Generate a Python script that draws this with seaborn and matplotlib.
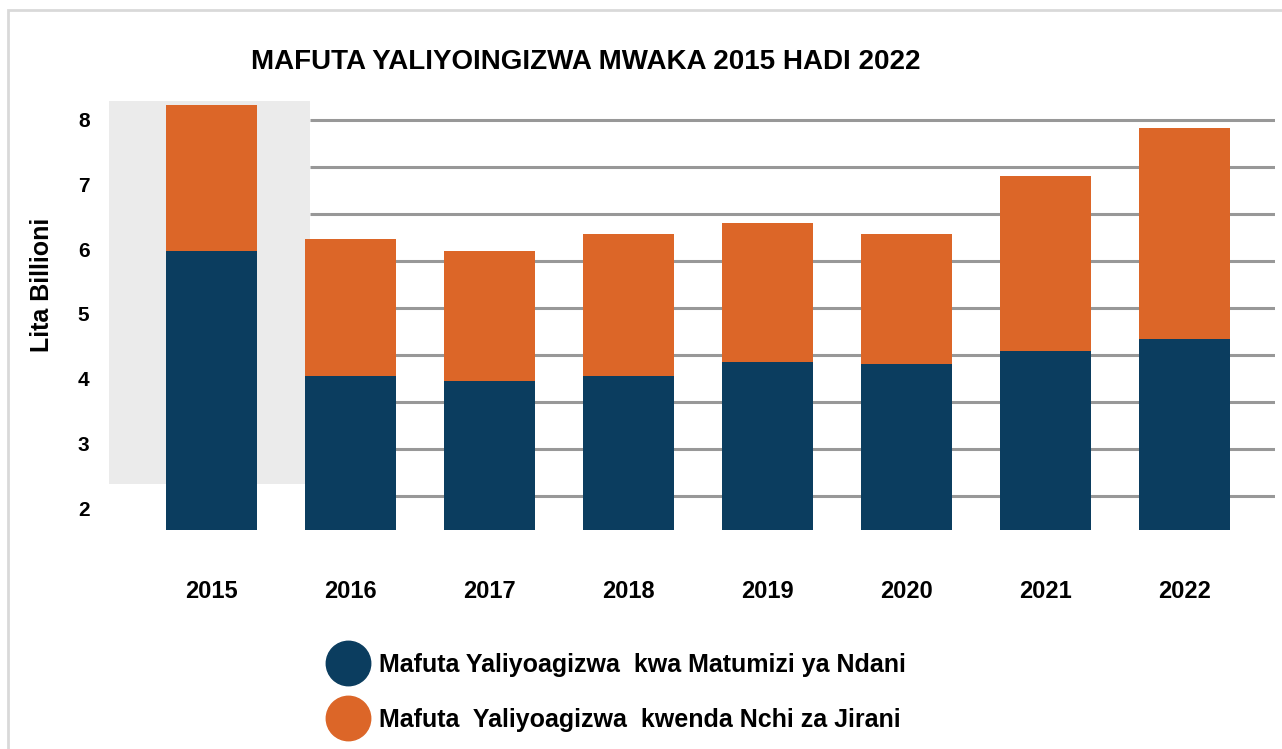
import matplotlib
matplotlib.use('Agg')
import matplotlib.pyplot as plt
from matplotlib.lines import Line2D
from matplotlib.patches import Rectangle
import numpy as np
import pandas as pd
import seaborn as sns

# Data (billion litres)
years = ['2015', '2016', '2017', '2018', '2019', '2020', '2021', '2022']
ndani = [5.97, 4.04, 3.96, 4.04, 4.26, 4.23, 4.43, 4.61]
jirani = [2.26, 2.12, 2.01, 2.20, 2.15, 2.01, 2.70, 3.27]

series_names = ['Mafuta Yaliyoagizwa  kwa Matumizi ya Ndani',
                'Mafuta  Yaliyoagizwa  kwenda Nchi za Jirani']
title = 'MAFUTA YALIYOINGIZWA MWAKA 2015 HADI 2022'
ylabel = 'Lita Billioni'

navy = '#0B3D5F'
orange = '#DC6628'

df = pd.DataFrame({'year': years, 'ndani': ndani, 'jirani': jirani})
df['total'] = df['ndani'] + df['jirani']

sns.set_theme(style='white')
plt.rcParams['font.family'] = ['Liberation Sans', 'DejaVu Sans']
plt.rcParams['text.color'] = 'black'

fig = plt.figure(figsize=(12.82, 7.49), dpi=100)
ax = fig.add_axes([0.085, 0.2924, 0.9095, 0.5733])

# light grey panel behind the 2015 column
ax.add_patch(Rectangle((-0.74, 2.37), 1.445, 6.0, color='#EBEBEB', zorder=0, lw=0))

# horizontal guide lines
grid_y = np.arange(8.0, 2.0, -0.727)
ax.hlines(grid_y, 0.705, 7.65, color='#989898', lw=2.2, zorder=1)

sns.barplot(data=df, x='year', y='total', color=orange, width=0.655,
            saturation=1, ax=ax, zorder=3, linewidth=0)
sns.barplot(data=df, x='year', y='ndani', color=navy, width=0.655,
            saturation=1, ax=ax, zorder=4, linewidth=0)

ax.set_xlim(-0.74, 7.65)
ax.set_ylim(1.66, 8.3)
ax.set_yticks(range(2, 9))
ax.grid(False)
for s in ax.spines.values():
    s.set_visible(False)

ax.tick_params(axis='y', length=0, pad=14, labelsize=15, labelcolor='black')
ax.tick_params(axis='x', length=0, pad=36, labelsize=17, labelcolor='black')
for lab in ax.get_xticklabels() + ax.get_yticklabels():
    lab.set_fontweight('bold')

ax.set_xlabel('')
ax.set_ylabel(ylabel, fontsize=18, fontweight='bold', color='black')
ax.yaxis.set_label_coords(-0.047, 0.57)

fig.text(0.457, 0.917, title, fontsize=20, fontweight='bold', ha='center', va='center')

handles = [Line2D([], [], marker='o', ls='', color=navy, markersize=32),
           Line2D([], [], marker='o', ls='', color=orange, markersize=32)]
leg = fig.legend(handles, series_names, loc='upper left',
                 bbox_to_anchor=(0.244, 0.142), frameon=False,
                 prop={'size': 18, 'weight': 'bold'},
                 handletextpad=0.25, labelspacing=1.25, borderaxespad=0)

# outer frame
fig.patches.append(Rectangle((0.006, -0.01), 1.0, 0.997, transform=fig.transFigure,
                             fill=False, ec='#D9D9D9', lw=2))

fig.savefig('out.png', dpi=100)
